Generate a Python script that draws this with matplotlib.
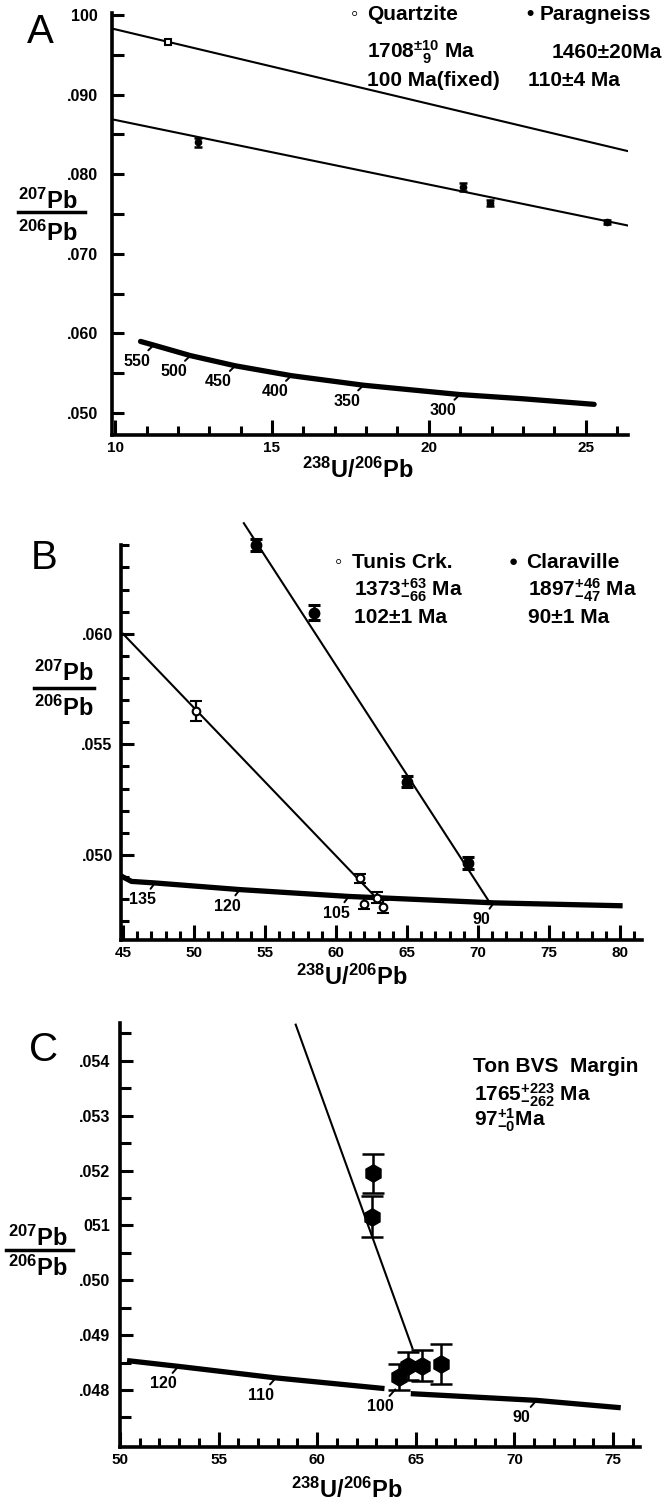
import numpy as np
import matplotlib
matplotlib.use('Agg')
import matplotlib.pyplot as plt
from matplotlib.lines import Line2D
from matplotlib.ticker import FixedLocator, FixedFormatter

plt.rcParams['font.family'] = ['Liberation Sans', 'DejaVu Sans']
plt.rcParams['font.weight'] = 'bold'
plt.rcParams['mathtext.fontset'] = 'custom'
plt.rcParams['mathtext.rm'] = 'Liberation Sans:bold'
plt.rcParams['mathtext.it'] = 'Liberation Sans:bold'
plt.rcParams['mathtext.bf'] = 'Liberation Sans:bold'

# ---------------- panel A: quartzite / paragneiss
qtz_x = [11.69]
qtz_y = [0.0966]
qtz_line_x = [9.90, 26.35]
qtz_line_y = [0.0983, 0.0829]
pgn_x = [12.64, 21.08, 21.96, 25.68]
pgn_y = [0.0840, 0.0784, 0.0764, 0.0740]
pgn_err = [0.0006, 0.0005, 0.0004, 0.0003]
pgn_line_x = [9.90, 26.42]
pgn_line_y = [0.0869, 0.0735]
concA_x = [10.81, 11.23, 12.40, 13.83, 15.62, 17.92, 20.99, 23.0, 25.27]
concA_y = [0.0590, 0.05854, 0.05722, 0.05594, 0.0547, 0.0535, 0.05233, 0.0518, 0.0511]
agesA = [550, 500, 450, 400, 350, 300]
agesA_x = [11.23, 12.40, 13.83, 15.62, 17.92, 20.99]
agesA_y = [0.05854, 0.05722, 0.05594, 0.0547, 0.0535, 0.05233]
yticksA = [0.050, 0.060, 0.070, 0.080, 0.090, 0.100]
ylabelsA = ['.050', '.060', '.070', '.080', '.090', '100']
xticksA = [10, 15, 20, 25]

# ---------------- panel B: Tunis Crk. / Claraville
tunis_x = [50.14, 61.72, 61.96, 62.86, 63.30]
tunis_y = [0.0565, 0.04894, 0.0478, 0.04807, 0.04766]
tunis_err = [0.00046, 0.0002, 0.00026, 0.00023, 0.0003]
tunis_line_x = [45.0, 62.62]
tunis_line_y = [0.0600, 0.0482]
clara_x = [54.35, 58.44, 65.0, 69.33]
clara_y = [0.0640, 0.06095, 0.0533, 0.04963]
clara_err = [0.00027, 0.00034, 0.00025, 0.00028]
clara_line_x = [53.51, 70.83]
clara_line_y = [0.0650, 0.04784]
concB_x = [45.0, 45.6, 47.25, 53.22, 60.9, 71.12, 80.0]
concB_y = [0.0490, 0.0488, 0.04873, 0.04843, 0.04812, 0.04783, 0.0477]
agesB = [135, 120, 105, 90]
agesB_x = [47.25, 53.22, 60.9, 71.12]
agesB_y = [0.04873, 0.04843, 0.04812, 0.04783]
yticksB = [0.050, 0.055, 0.060]
ylabelsB = ['.050', '.055', '.060']
xticksB = [45, 50, 55, 60, 65, 70, 75, 80]

# ---------------- panel C: Ton BVS margin
ton_x = [62.85, 62.79, 64.13, 64.62, 65.30, 66.30]
ton_y = [0.05195, 0.05116, 0.04824, 0.04844, 0.04844, 0.04847]
ton_err = [0.00036, 0.00038, 0.00024, 0.00025, 0.00028, 0.00037]
ton_line_x = [58.91, 64.83]
ton_line_y = [0.05466, 0.04876]
concC1_x = [50.49, 52.96, 57.9, 63.28]
concC1_y = [0.04853, 0.04843, 0.04822, 0.04803]
concC2_x = [64.88, 71.12, 75.26]
concC2_y = [0.04793, 0.04781, 0.04768]
agesC = [120, 110, 100, 90]
agesC_x = [52.96, 57.9, 63.96, 71.12]
agesC_y = [0.04843, 0.04822, 0.04801, 0.04781]
yticksC = [0.048, 0.049, 0.050, 0.051, 0.052, 0.053, 0.054]
ylabelsC = ['.048', '.049', '.050', '051', '.052', '.053', '.054']
xticksC = [50, 55, 60, 65, 70, 75]

W, H = 663, 1504
fig = plt.figure(figsize=(W / 100, H / 100), dpi=100)


def box(l, r, t, b):
    return [l / W, 1 - b / H, (r - l) / W, (b - t) / H]


def style(ax, xt, xminor, yt, ylab, yminor, ylen=8.5, yminlen=8.5, ypad=6):
    for s in ['top', 'right']:
        ax.spines[s].set_visible(False)
    for s in ['left', 'bottom']:
        ax.spines[s].set_linewidth(2.6)
    ax.xaxis.set_major_locator(FixedLocator(xt))
    ax.xaxis.set_major_formatter(FixedFormatter([str(v) for v in xt]))
    ax.xaxis.set_minor_locator(FixedLocator(xminor))
    ax.yaxis.set_major_locator(FixedLocator(yt))
    ax.yaxis.set_major_formatter(FixedFormatter(ylab))
    ax.yaxis.set_minor_locator(FixedLocator(yminor))
    ax.tick_params(axis='x', which='major', direction='in', length=11, width=2.2,
                   labelsize=11, pad=4)
    ax.tick_params(axis='x', which='minor', direction='in', length=6.5, width=2.2)
    ax.tick_params(axis='y', which='major', direction='in', length=ylen, width=2.2,
                   labelsize=11.5, pad=ypad)
    ax.tick_params(axis='y', which='minor', direction='in', length=yminlen, width=2.2)


def ages(ax, a, x, y, dx, dy):
    for age, xx, yy in zip(a, x, y):
        ax.annotate(str(age), xy=(xx, yy), xytext=(dx, dy), textcoords='offset points',
                    ha='center', va='center', fontsize=11.5, fontweight='bold',
                    arrowprops=dict(arrowstyle='-', lw=1.4, color='k', shrinkA=0.5, shrinkB=0))


def fraction(xc, x0, x1, y_top, y_line, y_bot, fs):
    fig.text(xc / W, 1 - y_top / H, r'$^{207}$Pb', ha='center', va='center', fontsize=fs)
    fig.add_artist(Line2D([x0 / W, x1 / W], [1 - y_line / H, 1 - y_line / H],
                          transform=fig.transFigure, color='k', lw=2.5))
    fig.text(xc / W, 1 - y_bot / H, r'$^{206}$Pb', ha='center', va='center', fontsize=fs)


# ---------------- A
axA = fig.add_axes(box(112, 628, 13, 435))
axA.set_xlim(9.90, 26.35)
axA.set_ylim(0.04725, 0.10025)
axA.plot(qtz_line_x, qtz_line_y, color='k', lw=1.5)
axA.plot(pgn_line_x, pgn_line_y, color='k', lw=1.5)
axA.plot(concA_x, concA_y, color='k', lw=3.8, solid_capstyle='round')
axA.plot(qtz_x, qtz_y, 's', ms=5, mfc='white', mec='k', mew=1.5)
axA.errorbar(pgn_x, pgn_y, yerr=pgn_err, fmt='o', ms=4.5, color='k', capsize=3,
             elinewidth=1.8, capthick=1.8)
ages(axA, agesA, agesA_x, agesA_y, -12, -11.5)
style(axA, xticksA, list(range(11, 27)), yticksA, ylabelsA,
      [0.055, 0.065, 0.075, 0.085, 0.095], ypad=10)

fig.text(40 / W, 1 - 32 / H, 'A', fontsize=29, fontweight='normal', ha='center', va='center')
fraction(48, 18, 85, 201, 212, 233, 17)
fig.text(358 / W, 1 - 470 / H, r'$^{238}$U/$^{206}$Pb', fontsize=17, ha='center', va='center')
fig.text(355 / W, 1 - 15 / H, '◦', fontsize=15, ha='center', va='center')
fig.text(367 / W, 1 - 15 / H, 'Quartzite', fontsize=15, ha='left', va='center')
fig.text(530 / W, 1 - 15 / H, '•', fontsize=15, ha='center', va='center')
fig.text(540 / W, 1 - 15 / H, 'Paragneiss', fontsize=15, ha='left', va='center')
fig.text(367 / W, 1 - 52 / H, r'1708$^{\pm10}_{\ \ 9}$ Ma', fontsize=15, ha='left', va='center')
fig.text(552 / W, 1 - 52 / H, '1460±20Ma', fontsize=15, ha='left', va='center')
fig.text(367 / W, 1 - 80 / H, '100 Ma(fixed)', fontsize=15, ha='left', va='center')
fig.text(528 / W, 1 - 80 / H, '110±4 Ma', fontsize=15, ha='left', va='center')

# ---------------- B
axB = fig.add_axes(box(121, 642, 521, 940))
axB.set_xlim(44.86, 81.55)
axB.set_ylim(0.04615, 0.0651)
axB.spines['left'].set_bounds(0.04615, 0.0640)
axB.plot(tunis_line_x, tunis_line_y, color='k', lw=1.5)
axB.plot(clara_line_x, clara_line_y, color='k', lw=1.5)
axB.plot(concB_x, concB_y, color='k', lw=3.8)
axB.errorbar(tunis_x, tunis_y, yerr=tunis_err, fmt='o', ms=5.5, mfc='white', mec='k',
             mew=1.5, ecolor='k', capsize=4.5, elinewidth=1.6, capthick=1.8)
axB.errorbar(clara_x, clara_y, yerr=clara_err, fmt='o', ms=7.5, color='k', capsize=4.5,
             elinewidth=1.8, capthick=2.2)
ages(axB, agesB, agesB_x, agesB_y, -9, -12)
minB = [round(0.047 + 0.001 * i, 3) for i in range(18)]
minB = [v for v in minB if v not in yticksB]
style(axB, xticksB, list(range(46, 82)), yticksB, ylabelsB, minB, ylen=9.5, yminlen=5.5,
      ypad=6)

fig.text(44 / W, 1 - 558 / H, 'B', fontsize=29, fontweight='normal', ha='center', va='center')
fraction(64, 34, 94, 673, 688, 708, 17)
fig.text(352 / W, 1 - 977 / H, r'$^{238}$U/$^{206}$Pb', fontsize=17, ha='center', va='center')
fig.text(339 / W, 1 - 562 / H, '◦', fontsize=15, ha='center', va='center')
fig.text(352 / W, 1 - 562 / H, 'Tunis Crk.', fontsize=15, ha='left', va='center')
fig.text(513 / W, 1 - 562 / H, '●', fontsize=11, ha='center', va='center')
fig.text(526 / W, 1 - 562 / H, 'Claraville', fontsize=15, ha='left', va='center')
fig.text(354 / W, 1 - 590 / H, r'1373$^{+63}_{-66}$ Ma', fontsize=15, ha='left', va='center')
fig.text(528 / W, 1 - 590 / H, r'1897$^{+46}_{-47}$ Ma', fontsize=15, ha='left', va='center')
fig.text(354 / W, 1 - 618 / H, '102±1 Ma', fontsize=15, ha='left', va='center')
fig.text(528 / W, 1 - 618 / H, '90±1 Ma', fontsize=15, ha='left', va='center')

# ---------------- C
axC = fig.add_axes(box(120, 640, 1023, 1447))
axC.set_xlim(50.0, 76.37)
axC.set_ylim(0.04696, 0.05469)
axC.plot(ton_line_x, ton_line_y, color='k', lw=1.5)
axC.plot(concC1_x, concC1_y, color='k', lw=3.8)
axC.plot(concC2_x, concC2_y, color='k', lw=3.8)
axC.errorbar(ton_x, ton_y, yerr=ton_err, fmt='h', ms=12.5, color='k', capsize=8,
             elinewidth=1.8, capthick=1.8)
ages(axC, agesC, agesC_x, agesC_y, -11, -12.5)
minC = [round(0.0475 + 0.001 * i, 4) for i in range(8)]
style(axC, xticksC, [v for v in range(51, 77) if v not in xticksC], yticksC, ylabelsC, minC,
      ylen=9, yminlen=8, ypad=7)

fig.text(44 / W, 1 - 1050 / H, 'C', fontsize=29, fontweight='normal', ha='center', va='center')
fraction(38, 6, 73, 1238, 1250, 1268, 17)
fig.text(347 / W, 1 - 1490 / H, r'$^{238}$U/$^{206}$Pb', fontsize=17, ha='center', va='center')
fig.text(473 / W, 1 - 1067 / H, 'Ton BVS  Margin', fontsize=15, ha='left', va='center')
fig.text(474 / W, 1 - 1095 / H, r'1765$^{+223}_{-262}$ Ma', fontsize=15, ha='left', va='center')
fig.text(474 / W, 1 - 1120 / H, r'97$^{+1}_{-0}$Ma', fontsize=15, ha='left', va='center')

fig.savefig('out.png', dpi=100, facecolor='white')
